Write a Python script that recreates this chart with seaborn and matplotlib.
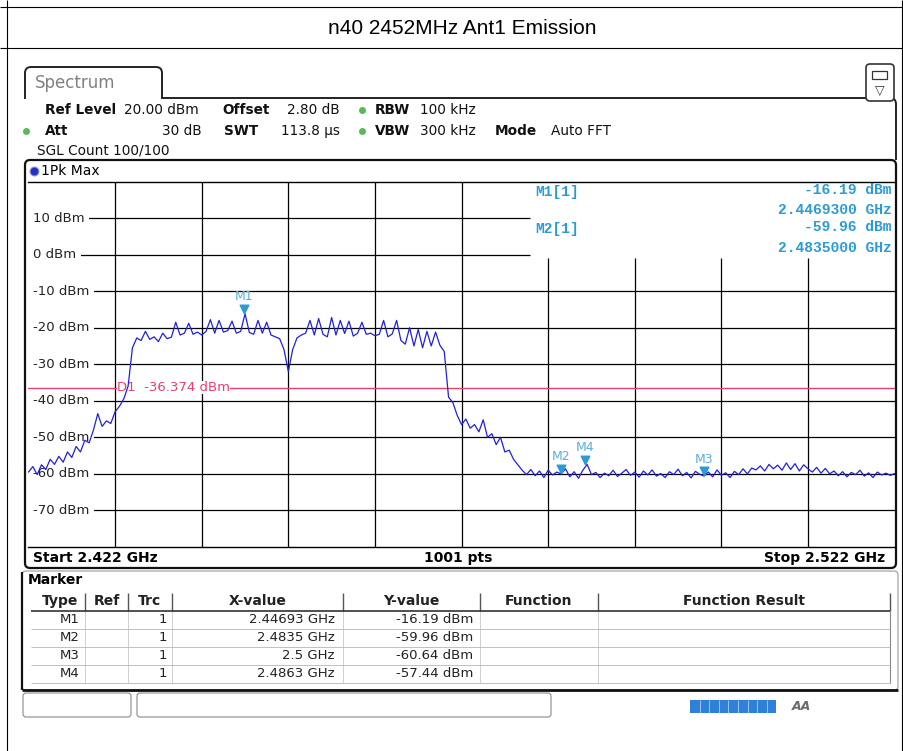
import matplotlib

matplotlib.use("Agg")
import matplotlib.patches as mpatches
import matplotlib.path as mpath
import matplotlib.pyplot as plt
import matplotlib.transforms as mtransforms
import numpy as np
import seaborn as sns

# ---- 数据 ----
title_text = "n40 2452MHz Ant1 Emission"
start_ghz = 2.422
stop_ghz = 2.522
ref_level_dbm = 20
bottom_dbm = -80
display_line_dbm = -36.374
y_tick_dbm = [10, 0, -10, -20, -30, -40, -50, -60, -70]
x_grid_ghz = [2.432, 2.442, 2.452, 2.462, 2.472, 2.482, 2.492, 2.502, 2.512]

# 1Pk Max 迹线 (dBm), 从截图读取, 步长 0.5 MHz
trace_dbm = [
    -59.5, -58.0, -60.2, -57.5, -58.8, -56.0, -57.4, -55.2, -56.8, -54.0,
    -55.5, -52.5, -54.0, -50.8, -51.5, -48.0, -43.5, -47.0, -45.5, -46.2,
    -43.0, -41.5, -39.5, -36.0, -25.5, -22.8, -23.5, -21.0, -23.2, -22.5,
    -23.8, -21.5, -23.0, -22.6, -18.5, -22.0, -21.5, -18.8, -21.8, -21.2,
    -22.0, -21.0, -17.8, -21.5, -18.0, -21.2, -20.8, -18.2, -21.5, -21.0,
    -16.2, -21.3, -21.8, -18.0, -21.5, -18.5, -22.0, -22.5, -23.0, -26.0,
    -32.0, -26.0, -22.8, -22.0, -21.5, -18.0, -22.0, -17.5, -21.8, -22.5,
    -17.2, -22.0, -18.0, -21.6, -18.2, -22.3, -21.5, -18.5, -21.8, -21.5,
    -22.2, -21.8, -18.0, -22.5, -21.7, -18.0, -23.5, -24.5, -20.0, -25.0,
    -20.5, -25.5, -21.0, -25.0, -21.2, -24.8, -26.5, -39.0, -40.5, -44.0,
    -46.5, -45.0, -47.5, -46.5, -48.5, -45.2, -50.0, -49.0, -52.0, -50.0,
    -54.0, -53.5, -56.0, -57.5, -59.0, -60.2, -58.8, -60.5, -59.2, -61.0,
    -59.0, -60.3, -59.5, -60.0, -58.6, -60.8, -59.4, -61.2, -59.0, -57.4,
    -60.2, -59.6, -61.0, -59.8, -60.5, -59.0, -60.7, -59.8, -58.8, -60.4,
    -59.5, -60.9, -59.2, -60.3, -58.9, -60.6, -59.9, -61.0, -59.4, -60.2,
    -58.7, -60.5, -59.6, -61.1, -59.3, -60.1, -60.6, -59.5, -60.8, -58.9,
    -60.4, -59.7, -61.0, -59.3, -60.2, -58.6, -60.0, -58.4, -58.9, -57.8,
    -59.2, -57.4, -58.6, -57.6, -59.0, -57.0, -58.8, -57.2, -59.2, -57.5,
    -58.6, -59.5, -58.2, -59.8, -58.5, -60.0, -59.2, -60.5, -59.4, -60.8,
    -59.6, -60.2, -59.0, -60.6, -59.7, -61.0, -59.5, -60.3, -59.8, -60.4,
    -59.9,
]
sweep_points = 1001

marker_names = ["M1", "M2", "M3", "M4"]
marker_ghz = [2.44693, 2.4835, 2.5, 2.4863]
marker_dbm = [-16.19, -59.96, -60.64, -57.44]

header_row1 = [("Ref Level", 45, True), ("20.00 dBm", 124, False), ("Offset", 222, True),
               ("2.80 dB", 287, False), ("RBW", 375, True), ("100 kHz", 420, False)]
header_row2 = [("Att", 45, True), ("SWT", 224, True), ("113.8 µs", 281, False),
               ("VBW", 375, True), ("300 kHz", 420, False), ("Mode", 495, True), ("Auto FFT", 551, False)]

table_cols = ["Type", "Ref", "Trc", "X-value", "Y-value", "Function", "Function Result"]

freq_ghz = np.linspace(start_ghz, stop_ghz, len(trace_dbm))

# ---- 样式 ----
sns.set_theme(style="white")
plt.rcParams["font.family"] = ["DejaVu Sans"]

W, H = 904, 751
fig = plt.figure(figsize=(W / 100, H / 100), dpi=100)
fig.patch.set_facecolor("white")

# 背景层: 像素坐标
bg = fig.add_axes([0, 0, 1, 1])
bg.set_xlim(0, W)
bg.set_ylim(H, 0)
bg.axis("off")


def line(x0, y0, x1, y1, color="black", lw=0.8, z=2):
    bg.plot([x0, x1], [y0, y1], color=color, lw=lw, solid_capstyle="butt", zorder=z)


def txt(x, y, s, size=10, weight="normal", color="black", ha="left", family=None, style="normal"):
    bg.text(x, y, s, fontsize=size, fontweight=weight, color=color, ha=ha, va="center",
            family=family or ["DejaVu Sans"], style=style, zorder=5)


def rbox(x0, y0, x1, y1, r=4, ec="black", lw=1.0, fc="none", z=1):
    bg.add_patch(mpatches.FancyBboxPatch((x0, y0), x1 - x0, y1 - y0,
                                         boxstyle=f"round,pad=0,rounding_size={r}",
                                         ec=ec, fc=fc, lw=lw, zorder=z))


# 外框与标题
line(0, 7, W, 7)
line(0, 48, W, 48)
line(7, 0, 7, H)
line(902.5, 0, 902.5, H)
txt(462, 28, title_text, size=15, ha="center", family=["Liberation Sans"])

# Spectrum 标签页
P = mpath.Path
verts = [(25, 99), (25, 73), (25, 67), (31, 67), (156, 67), (162, 67), (162, 73),
         (162, 98), (890, 98), (896, 98), (896, 104), (896, 160)]
codes = [P.MOVETO, P.LINETO, P.CURVE3, P.CURVE3, P.LINETO, P.CURVE3, P.CURVE3,
         P.LINETO, P.LINETO, P.CURVE3, P.CURVE3, P.LINETO]
bg.add_patch(mpatches.PathPatch(P(verts, codes), fc="none", ec="#222", lw=1.4, zorder=2))
txt(35, 83, "Spectrum", size=12, color="#808080")

# 右上角图标
rbox(866, 64, 894, 101, r=4, ec="#333", lw=1.2, fc="white", z=3)
bg.add_patch(mpatches.Rectangle((872, 71), 15, 8, fc="white", ec="#333", lw=0.9, zorder=4))
txt(880, 90, "▽", size=9, ha="center", color="#333")

# 设置参数行
for s, x, b in header_row1:
    txt(x, 110, s, size=9.8, weight="bold" if b else "normal", color="#111")
for s, x, b in header_row2:
    txt(x, 131, s, size=9.8, weight="bold" if b else "normal", color="#111")
txt(202, 131, "30 dB", size=9.8, ha="right", color="#111")
bg.scatter([362, 26, 362], [110, 131, 131], s=16, color="#5cb85c", zorder=5)
txt(37, 150, "SGL Count 100/100", size=9.8, color="#111")

# 图表框
rbox(25, 160, 896, 568, r=5, ec="#111", lw=1.6)
bg.scatter([34], [171], s=40, color="#2430c0", edgecolors="#8090e0", linewidths=0.8, zorder=5)
txt(41, 171, "1Pk Max", size=10)
txt(33, 558, f"Start {start_ghz:g} GHz", size=10, weight="bold")
txt(458, 558, f"{sweep_points} pts", size=10, weight="bold", ha="center")
txt(885, 558, f"Stop {stop_ghz:g} GHz", size=10, weight="bold", ha="right")

# 标记信息 (右上)
mk_color = "#2a9bd6"
mono = ["Liberation Mono"]
info_rows = [(192, 210, 0), (229, 248, 1)]
for y_top, y_bot, k in info_rows:
    txt(535, y_top, f"{marker_names[k]}[1]", size=10.5, weight="bold", color=mk_color, family=mono)
    txt(892, y_top - 2, f"{marker_dbm[k]:.2f} dBm", size=10.5, weight="bold", color=mk_color, ha="right", family=mono)
    txt(892, y_bot, f"{marker_ghz[k]:.7f} GHz", size=10.5, weight="bold", color=mk_color, ha="right", family=mono)

# 标记表
rbox(22, 571, 898, 690, r=4, ec="#9a9a9a", lw=0.8)
line(22, 689.5, 898, 689.5, lw=2.0, color="#111")
line(22.5, 572, 22.5, 690, lw=1.6, color="#111")
txt(28, 580, "Marker", size=10, weight="bold")
col_edges = [35, 85, 128, 172, 343, 480, 598, 890]
row_lines = [611, 628.5, 646.5, 664.5, 682.5]
for i, name in enumerate(table_cols):
    txt((col_edges[i] + col_edges[i + 1]) / 2, 601, name, size=10, weight="bold", ha="center", color="#222")
for x in col_edges[1:]:
    line(x, 593, x, 611, color="#555", lw=1.0)
for x in col_edges[1:-1]:
    line(x, 611, x, 682.5, color="#c8c8c8", lw=0.6)
line(col_edges[-1], 611, col_edges[-1], 682.5, color="#888", lw=0.8)
line(31, 611, 890, 611, color="#333", lw=1.2)
for y in row_lines[1:]:
    line(31, y, 890, y, color="#b5b5b5", lw=0.6)
for k, name in enumerate(marker_names):
    yc = (row_lines[k] + row_lines[k + 1]) / 2
    txt(80, yc, name, size=9.5, ha="right", color="#222")
    txt(167, yc, "1", size=9.5, ha="right", color="#222")
    txt(335, yc, f"{marker_ghz[k]:g} GHz", size=9.5, ha="right", color="#222")
    txt(473, yc, f"{marker_dbm[k]:.2f} dBm", size=9.5, ha="right", color="#222")

# 状态栏
rbox(23, 693, 131, 717, r=3, ec="#8a8a8a", lw=0.8)
rbox(137, 693, 551, 717, r=3, ec="#8a8a8a", lw=0.8)
bg.add_patch(mpatches.Rectangle((690, 700), 86, 13, fc="#2f80d8", ec="none", zorder=3))
for k in range(1, 9):
    line(690 + k * 9.6, 700, 690 + k * 9.6, 713, color="#9cc8f0", lw=0.7, z=4)
txt(801, 706, "AA", size=9, weight="bold", style="italic", color="#6a6a6a", ha="center")

# ---- 频谱图 ----
ax = fig.add_axes([28.5 / W, 1 - 547 / H, (894.6 - 28.5) / W, (547 - 181.5) / H])
ax.set_facecolor("none")
ax.set_zorder(3)

info_left_ghz = 2.47991
label_x = start_ghz + 0.00052
for f in x_grid_ghz:
    ax.vlines(f, bottom_dbm, ref_level_dbm if f < info_left_ghz else -0.8, color="black", lw=0.9, zorder=1)
for y in y_tick_dbm:
    ax.hlines(y, label_x, info_left_ghz if y > -5 else stop_ghz, color="black", lw=0.9, zorder=1)
    ax.text(label_x, y, f"{y} dBm", ha="left", va="center", fontsize=9.5, color="#222",
            bbox=dict(boxstyle="square,pad=0.34", facecolor="white", edgecolor="none"), zorder=2)

# 显示线 D1
d1_color = "#e8406e"
ax.axhline(display_line_dbm, color=d1_color, lw=1.0, zorder=1.5)
ax.text(2.43222, display_line_dbm, f"D1  {display_line_dbm:.3f} dBm", ha="left", va="center",
        fontsize=9.5, color=d1_color, bbox=dict(facecolor="white", edgecolor="none", pad=0.3), zorder=2)

sns.lineplot(x=freq_ghz, y=trace_dbm, ax=ax, color="#2020e0", lw=0.9, estimator=None, sort=False, zorder=5)

# 标记三角形与名称
tri_tr = mtransforms.offset_copy(ax.transData, fig=fig, x=0, y=5, units="dots")
lab_tr = mtransforms.offset_copy(ax.transData, fig=fig, x=0, y=17, units="dots")
ax.scatter(marker_ghz, marker_dbm, marker="v", s=38, color="#2a9bd6", transform=tri_tr, zorder=6)
for name, f, v in zip(marker_names, marker_ghz, marker_dbm):
    ax.text(f, v, name, transform=lab_tr, ha="center", va="center", fontsize=9, color="#5aaee0", zorder=6)

ax.set_xlim(start_ghz, stop_ghz)
ax.set_ylim(bottom_dbm, ref_level_dbm)
ax.set_xticks([])
ax.set_yticks([])
ax.set_xlabel("")
ax.set_ylabel("")
for side, sp in ax.spines.items():
    sp.set_color("black")
    sp.set_linewidth(1.0)
    if side in ("left", "right"):
        sp.set_visible(False)

fig.savefig("out.png", dpi=100, facecolor="white")
